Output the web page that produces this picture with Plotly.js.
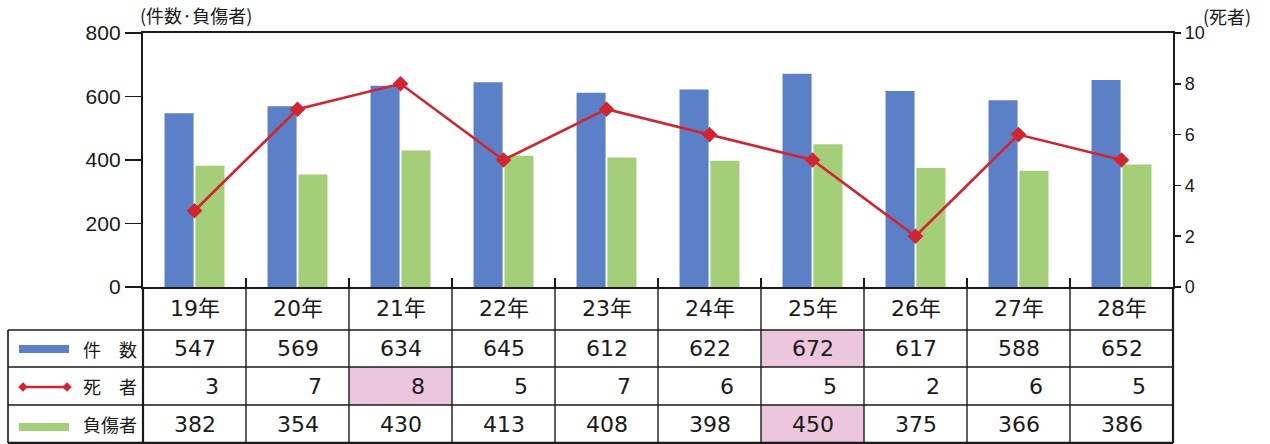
<!DOCTYPE html>
<html>
<head>
<meta charset="utf-8">
<script src="https://cdn.plot.ly/plotly-3.0.1.min.js"></script>
<style>
  html, body { margin: 0; padding: 0; background: #ffffff; }
  #chart { width: 1270px; height: 444px; }
</style>
</head>
<body>
<div id="chart"></div>
<script>
// ---- data ----
const years = ['19年', '20年', '21年', '22年', '23年', '24年', '25年', '26年', '27年', '28年'];
const cases = [547, 569, 634, 645, 612, 622, 672, 617, 588, 652];     // 件数
const deaths = [3, 7, 8, 5, 7, 6, 5, 2, 6, 5];                         // 死者
const injured = [382, 354, 430, 413, 408, 398, 450, 375, 366, 386];   // 負傷者
const rowLabels = ['件\u3000数', '死\u3000者', '負傷者'];
const leftTicks = [0, 200, 400, 600, 800];
const rightTicks = [0, 2, 4, 6, 8, 10];

// ---- styling ----
const BLUE = '#5b80c8';
const GREEN = '#a4cf78';
const RED = '#d22430';
const PINK = '#ebc6dc';
const INK = '#1a1a1a';
const NUMFONT = 'DejaVu Sans, Noto Sans CJK JP, sans-serif';
const JPFONT = 'Noto Sans CJK JP, sans-serif';
const TICKFONT = 'Liberation Sans, Arial, sans-serif';

const W = 1270, H = 444;
const M = { l: 143, r: 97, t: 33, b: 157 };
const plotW = W - M.l - M.r, plotH = H - M.t - M.b;
const xRange = [-0.5, years.length - 0.5];

// pixel -> paper helpers (for the table frame drawn under the plot)
const px = p => (p - M.l) / plotW;
const py = p => (H - M.b - p) / plotH;
const catPaper = v => (v - xRange[0]) / (xRange[1] - xRange[0]);

// table rows in pixels
const rowTop = [287, 330, 367, 405];
const rowBot = 443;
const rowCenters = [308.5, 348.5, 386, 424];

const shapes = [];
const annotations = [];

// highlight the maximum of each row
const rows = [cases, deaths, injured];
rows.forEach((arr, r) => {
  const mx = Math.max(...arr);
  const i = arr.indexOf(mx);
  shapes.push({
    type: 'rect', xref: 'paper', yref: 'paper', layer: 'below',
    x0: catPaper(i - 0.5), x1: catPaper(i + 0.5),
    y0: py(rowTop[r + 1]), y1: py(r + 2 < rowTop.length ? rowTop[r + 2] : rowBot),
    fillcolor: PINK, line: { width: 0 }
  });
});

// vertical separators in the table (category boundaries)
for (let k = 0; k <= years.length; k++) {
  const xb = catPaper(k - 0.5);
  const outer = (k === 0 || k === years.length);
  shapes.push({
    type: 'line', xref: 'paper', yref: 'paper',
    x0: xb, x1: xb, y0: py(rowTop[0]), y1: py(rowBot),
    line: { color: INK, width: outer ? 2.2 : 1.4 }
  });
}
// horizontal row lines (legend column + data)
[330, 367, 405].forEach(p => {
  shapes.push({
    type: 'line', xref: 'paper', yref: 'paper',
    x0: px(8), x1: 1, y0: py(p), y1: py(p),
    line: { color: INK, width: 1.4 }
  });
});
shapes.push({
  type: 'line', xref: 'paper', yref: 'paper',
  x0: px(8), x1: 1, y0: py(rowBot), y1: py(rowBot),
  line: { color: INK, width: 2.4 }
});
shapes.push({
  type: 'line', xref: 'paper', yref: 'paper',
  x0: px(8), x1: px(8), y0: py(330), y1: py(rowBot),
  line: { color: INK, width: 1.6 }
});

// legend keys inside the table's label column
shapes.push({
  type: 'rect', xref: 'paper', yref: 'paper',
  x0: px(19), x1: px(69), y0: py(345), y1: py(353),
  fillcolor: BLUE, line: { width: 0 }
});
shapes.push({
  type: 'rect', xref: 'paper', yref: 'paper',
  x0: px(19), x1: px(69), y0: py(423), y1: py(431),
  fillcolor: GREEN, line: { width: 0 }
});
shapes.push({
  type: 'line', xref: 'paper', yref: 'paper',
  x0: px(23), x1: px(67), y0: py(387), y1: py(387),
  line: { color: RED, width: 2.5 }
});
[23, 67].forEach(cxp => {
  const d = 4.5;
  shapes.push({
    type: 'path', xref: 'paper', yref: 'paper',
    path: `M ${px(cxp - d)} ${py(387)} L ${px(cxp)} ${py(387 - d)} L ${px(cxp + d)} ${py(387)} L ${px(cxp)} ${py(387 + d)} Z`,
    fillcolor: RED, line: { color: RED, width: 0.5 }
  });
});

// row labels
rowLabels.forEach((t, r) => {
  annotations.push({
    xref: 'paper', yref: 'paper', x: px(139), y: py(rowCenters[r + 1]),
    xanchor: 'right', yanchor: 'middle', showarrow: false, text: t,
    font: { family: JPFONT, size: 18, color: INK }
  });
});

// year header + values
years.forEach((yr, i) => {
  annotations.push({
    xref: 'x', yref: 'paper', x: yr, y: py(rowCenters[0]),
    xanchor: 'center', yanchor: 'middle', showarrow: false, text: yr,
    font: { family: NUMFONT, size: 22, color: INK }
  });
  annotations.push({
    xref: 'x', yref: 'paper', x: yr, y: py(rowCenters[1]),
    xanchor: 'center', yanchor: 'middle', showarrow: false, text: String(cases[i]),
    font: { family: NUMFONT, size: 22, color: INK }
  });
  annotations.push({
    xref: 'x', yref: 'paper', x: yr, y: py(rowCenters[2]),
    xanchor: 'right', yanchor: 'middle', xshift: 26, showarrow: false, text: String(deaths[i]),
    font: { family: NUMFONT, size: 22, color: INK }
  });
  annotations.push({
    xref: 'x', yref: 'paper', x: yr, y: py(rowCenters[3]),
    xanchor: 'center', yanchor: 'middle', showarrow: false, text: String(injured[i]),
    font: { family: NUMFONT, size: 22, color: INK }
  });
});

// axis unit labels
annotations.push({
  xref: 'paper', yref: 'paper', x: px(138), y: py(15),
  xanchor: 'left', yanchor: 'middle', showarrow: false, text: '(件数·負傷者)',
  font: { family: JPFONT, size: 18, color: INK }
});
annotations.push({
  xref: 'paper', yref: 'paper', x: px(1201), y: py(16),
  xanchor: 'left', yanchor: 'middle', showarrow: false, text: '(死者)',
  font: { family: JPFONT, size: 18, color: INK }
});

const traces = [
  {
    type: 'bar', name: '件数', x: years, y: cases, yaxis: 'y',
    marker: { color: BLUE }, hoverinfo: 'x+y'
  },
  {
    type: 'bar', name: '負傷者', x: years, y: injured, yaxis: 'y',
    marker: { color: GREEN }, hoverinfo: 'x+y'
  },
  {
    type: 'scatter', mode: 'lines+markers', name: '死者', x: years, y: deaths, yaxis: 'y2',
    line: { color: RED, width: 2.6 },
    marker: { symbol: 'diamond', size: 12, color: RED }
  }
];

const layout = {
  width: W, height: H,
  margin: M,
  paper_bgcolor: '#ffffff',
  plot_bgcolor: '#ffffff',
  showlegend: false,
  barmode: 'group',
  bargap: 0.4,
  bargroupgap: 0.06,
  xaxis: {
    type: 'category', range: xRange, fixedrange: true,
    showticklabels: false, showgrid: false, zeroline: false,
    ticks: 'inside', tickson: 'boundaries', ticklen: 9, tickwidth: 1.5, tickcolor: INK,
    showline: true, linecolor: INK, linewidth: 2.2, mirror: true
  },
  yaxis: {
    range: [0, 800], tickvals: leftTicks, showgrid: false, zeroline: false,
    ticks: 'outside', ticklen: 16, tickwidth: 1.6, tickcolor: INK,
    showline: true, linecolor: INK, linewidth: 2.2,
    tickfont: { family: TICKFONT, size: 21, color: INK }
  },
  yaxis2: {
    overlaying: 'y', side: 'right', range: [0, 10], tickvals: rightTicks,
    showgrid: false, zeroline: false,
    ticks: 'outside', ticklen: 6, tickwidth: 1.6, tickcolor: INK,
    showline: true, linecolor: INK, linewidth: 2.2,
    tickfont: { family: TICKFONT, size: 18, color: INK }
  },
  shapes: shapes,
  annotations: annotations
};

Plotly.newPlot('chart', traces, layout, { staticPlot: true, displayModeBar: false });
</script>
</body>
</html>
